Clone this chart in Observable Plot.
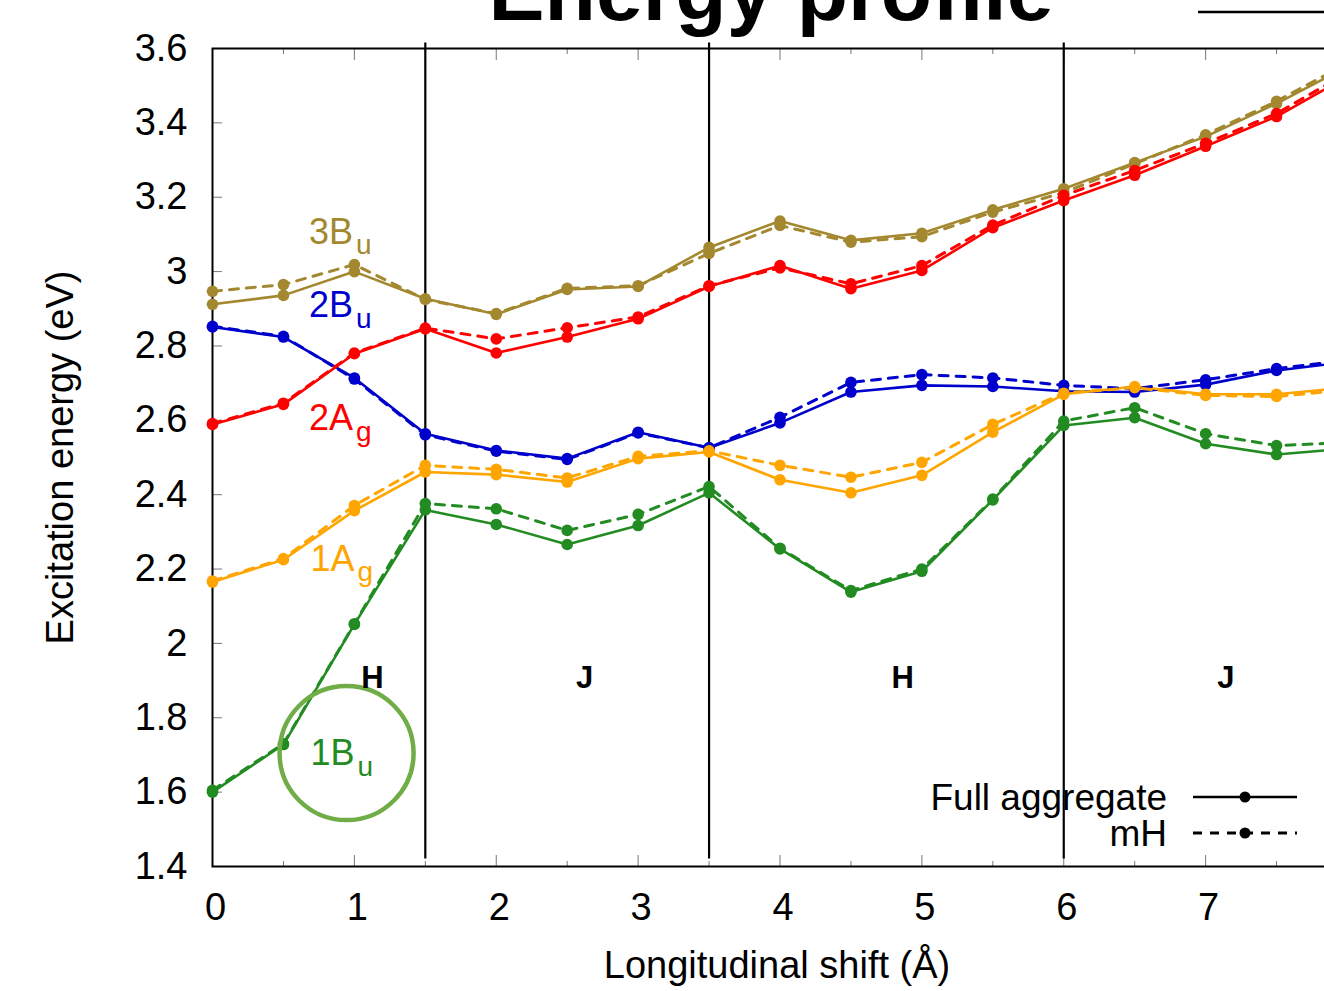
<!DOCTYPE html>
<html><head><meta charset="utf-8">
<script src="https://cdn.jsdelivr.net/npm/d3@7"></script>
<script src="https://cdn.jsdelivr.net/npm/@observablehq/plot@0.6"></script>
<style>
html,body{margin:0;padding:0;overflow:hidden;background:#fff;}
#wrap{position:relative;width:1324px;height:991px;overflow:hidden;}
#wrap > svg.plot{max-width:none !important;width:1370px;height:991px;display:block;}
#overlay{position:absolute;left:0;top:0;pointer-events:none;}
</style></head><body><div id="wrap"></div>
<script>
// ---- data ----
const shifts = [0, 0.5, 1, 1.5, 2, 2.5, 3, 3.5, 4, 4.5, 5, 5.5, 6, 6.5, 7, 7.5, 8];
const states = ["3Bu", "2Bu", "2Ag", "1Ag", "1Bu"];
const fullAggregate = {
  "3Bu": [2.912, 2.936, 3.000, 2.927, 2.885, 2.952, 2.960, 3.065, 3.136, 3.084, 3.103, 3.166, 3.223, 3.293, 3.363, 3.452, 3.552],
  "2Bu": [2.851, 2.824, 2.714, 2.564, 2.519, 2.497, 2.568, 2.526, 2.593, 2.676, 2.694, 2.691, 2.678, 2.676, 2.696, 2.734, 2.757],
  "2Ag": [2.589, 2.643, 2.779, 2.846, 2.781, 2.824, 2.873, 2.960, 3.016, 2.954, 3.003, 3.118, 3.191, 3.259, 3.337, 3.417, 3.525],
  "1Ag": [2.165, 2.225, 2.357, 2.461, 2.454, 2.434, 2.497, 2.515, 2.440, 2.405, 2.452, 2.568, 2.670, 2.691, 2.670, 2.670, 2.688],
  "1Bu": [1.600, 1.728, 2.051, 2.359, 2.320, 2.266, 2.317, 2.405, 2.254, 2.138, 2.194, 2.386, 2.586, 2.607, 2.537, 2.508, 2.524]
};
const mHValues = {
  "3Bu": [2.947, 2.965, 3.019, 2.925, 2.887, 2.955, 2.962, 3.049, 3.124, 3.079, 3.094, 3.160, 3.212, 3.290, 3.368, 3.458, 3.560],
  "2Bu": [2.853, 2.826, 2.711, 2.561, 2.517, 2.495, 2.566, 2.526, 2.608, 2.702, 2.723, 2.714, 2.694, 2.685, 2.709, 2.739, 2.762],
  "2Ag": [2.591, 2.646, 2.781, 2.848, 2.819, 2.849, 2.878, 2.962, 3.010, 2.967, 3.016, 3.125, 3.205, 3.272, 3.345, 3.425, 3.535],
  "1Ag": [2.168, 2.228, 2.371, 2.479, 2.468, 2.445, 2.503, 2.518, 2.479, 2.447, 2.487, 2.589, 2.673, 2.688, 2.667, 2.664, 2.682],
  "1Bu": [1.605, 1.730, 2.053, 2.376, 2.362, 2.304, 2.347, 2.422, 2.256, 2.142, 2.200, 2.388, 2.598, 2.634, 2.564, 2.532, 2.540]
};
const stateColors = {"3Bu": "#a3882f", "2Bu": "#0000cc", "2Ag": "#ff0000", "1Ag": "#ffa500", "1Bu": "#228b22"};
const labelMain = ["3B", "2B", "2A", "1A", "1B"];
const labelSub = ["u", "u", "g", "g", "u"];
const labelX = [0.68, 0.68, 0.68, 0.69, 0.69];
const labelY = [3.106, 2.908, 2.604, 2.227, 1.703];
const boundaries = [1.5, 3.5, 6];
const regionNames = ["H", "J", "H", "J"];
const regionX = [1.128, 2.623, 4.865, 7.142];
const regionY = 1.908;
const yTicks = [1.4, 1.6, 1.8, 2.0, 2.2, 2.4, 2.6, 2.8, 3.0, 3.2, 3.4, 3.6];
const xMajorTicks = [0, 1, 2, 3, 4, 5, 6, 7, 8];
const xMinorTicks = [0.5, 1.5, 2.5, 3.5, 4.5, 5.5, 6.5, 7.5];
const xTickLabels = [0, 1, 2, 3, 4, 5, 6, 7];
const highlight = {x: 0.945, y: 1.705};

// ---- rows ----
const rows = [];
for (const s of states) {
  shifts.forEach((x, i) => {
    rows.push({state: s, method: "Full aggregate", x, y: fullAggregate[s][i]});
    rows.push({state: s, method: "mH", x, y: mHValues[s][i]});
  });
}
const fullRows = rows.filter(d => d.method === "Full aggregate");
const mhRows = rows.filter(d => d.method === "mH");
const labels = labelMain.map((m, i) => ({main: m, sub: labelSub[i], x: labelX[i], y: labelY[i], color: stateColors[states[i]]}));
const regions = regionNames.map((n, i) => ({name: n, x: regionX[i], y: regionY}));

const FONT = "'Liberation Sans', Arial, Helvetica, sans-serif";
const tickColor = "#777";
const fmt = d => String(+d.toFixed(1));
const blank = () => "";

const chart = Plot.plot({
  width: 1370,
  height: 991,
  marginLeft: 212,
  marginRight: 23,
  marginTop: 48,
  marginBottom: 125,
  style: {fontFamily: FONT, background: "white", overflow: "visible"},
  x: {domain: [0, 8]},
  y: {domain: [1.4, 3.6]},
  color: {type: "identity"},
  marks: [
    Plot.axisY(yTicks, {anchor: "left", label: null, tickSize: 10, dx: 10, tickFormat: blank, stroke: tickColor}),
    Plot.axisY(yTicks, {anchor: "left", label: null, tickSize: 0, tickPadding: 25, tickFormat: fmt, fontSize: 38, fill: "black"}),
    Plot.axisX(xMajorTicks, {anchor: "bottom", label: null, tickSize: 11, dy: -11, tickFormat: blank, stroke: tickColor}),
    Plot.axisX(xMinorTicks, {anchor: "bottom", label: null, tickSize: 5, dy: -5, tickFormat: blank, stroke: tickColor}),
    Plot.axisX(xMajorTicks, {anchor: "top", label: null, tickSize: 11, dy: 11, tickFormat: blank, stroke: tickColor}),
    Plot.axisX(xMinorTicks, {anchor: "top", label: null, tickSize: 5, dy: 5, tickFormat: blank, stroke: tickColor}),
    Plot.axisX(xTickLabels, {anchor: "bottom", label: null, tickSize: 0, tickPadding: 27, dx: 3, tickFormat: d => String(d), fontSize: 38, fill: "black"}),
    Plot.frame({stroke: "black", strokeWidth: 2}),
    Plot.ruleX(boundaries, {y1: 1.42, y2: 3.615, stroke: "black", strokeWidth: 2.2}),
    Plot.line(fullRows, {x: "x", y: "y", z: "state", stroke: d => stateColors[d.state], strokeWidth: 2.6}),
    Plot.line(mhRows, {x: "x", y: "y", z: "state", stroke: d => stateColors[d.state], strokeWidth: 3, strokeDasharray: "9,8"}),
    Plot.dot(rows, {x: "x", y: "y", fill: d => stateColors[d.state], r: 5.8}),
    Plot.text(labels, {x: "x", y: "y", text: "main", fill: "color", fontSize: 36, textAnchor: "start"}),
    Plot.text(labels, {x: "x", y: "y", text: "sub", fill: "color", fontSize: 28, textAnchor: "start", dx: 47, dy: 13}),
    Plot.dot([highlight], {x: "x", y: "y", r: 67, fill: "none", stroke: "#70ad47", strokeWidth: 4.5}),
    Plot.text(regions, {x: "x", y: "y", text: "name", fontSize: 31, fontWeight: "bold", fill: "black"}),
    Plot.text(["Longitudinal shift (Å)"], {frameAnchor: "bottom", lineAnchor: "middle", textAnchor: "middle", dy: 99, dx: -3, fontSize: 38, fill: "black"}),
    Plot.text(["Excitation energy (eV)"], {frameAnchor: "left", lineAnchor: "middle", textAnchor: "middle", dx: -152, rotate: -90, fontSize: 38, fill: "black"})
  ]
});
chart.style.maxWidth = "none";

const wrap = document.getElementById("wrap");
wrap.appendChild(chart);

// ---- title + legend overlay ----
const ov = d3.select(wrap).append("svg").attr("id", "overlay")
  .attr("width", 1324).attr("height", 991)
  .style("font-family", FONT);
ov.append("text").attr("x", 771).attr("y", 20).attr("text-anchor", "middle")
  .attr("font-size", 84).attr("font-weight", "bold").text("Energy profile");
ov.append("line").attr("x1", 1198).attr("x2", 1330).attr("y1", 12).attr("y2", 12)
  .attr("stroke", "black").attr("stroke-width", 2.5);
const legendItems = [
  {name: "Full aggregate", dash: null, y: 797},
  {name: "mH", dash: "9,8", y: 833}
];
legendItems.forEach(it => {
  ov.append("text").attr("x", 1167).attr("y", it.y).attr("dy", "0.35em")
    .attr("text-anchor", "end").attr("font-size", 37).text(it.name);
  const l = ov.append("line").attr("x1", 1193).attr("x2", 1297).attr("y1", it.y).attr("y2", it.y)
    .attr("stroke", "black").attr("stroke-width", it.dash ? 3 : 2.5);
  if (it.dash) l.attr("stroke-dasharray", it.dash);
  ov.append("circle").attr("cx", 1245).attr("cy", it.y).attr("r", 5.5).attr("fill", "black");
});
</script></body></html>
